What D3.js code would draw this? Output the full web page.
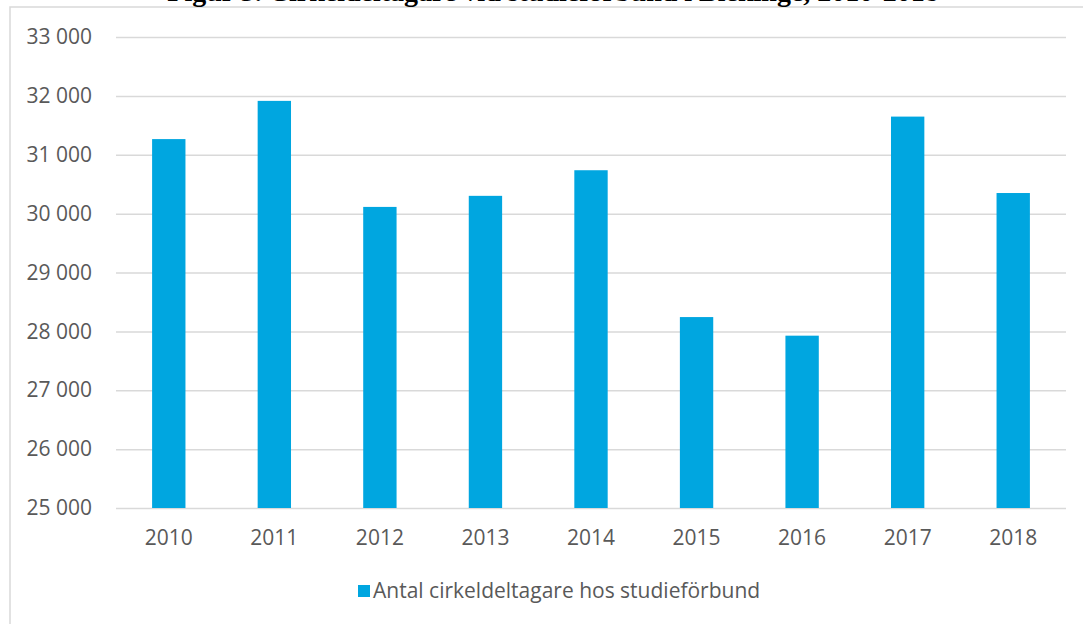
<!DOCTYPE html>
<html>
<head>
<meta charset="utf-8">
<script src="https://cdn.jsdelivr.net/npm/d3@7"></script>
<style>
  body { margin: 0; background: #fff; }
  text { font-family: "Open Sans", sans-serif; fill: #595959; }
</style>
</head>
<body>
<div id="chart"></div>
<script>
// data
var years = ["2010", "2011", "2012", "2013", "2014", "2015", "2016", "2017", "2018"];
var deltagare = [31266, 31915, 30114, 30302, 30737, 28243, 27927, 31648, 30350];
var yTicks = [25000, 26000, 27000, 28000, 29000, 30000, 31000, 32000, 33000];
var seriesName = "Antal cirkeldeltagare hos studieförbund";
var title = "Figur 3. Cirkeldeltagare vid studieförbund i Blekinge, 2010-2018";

var svgWidth = 1083;
var svgHeight = 624;

var plot = { left: 116, right: 1066, top: 37, bottom: 508 };

var svg = d3.select("#chart")
  .append("svg")
  .attr("width", svgWidth)
  .attr("height", svgHeight);

// chart area frame (right/bottom edges fall outside the picture)
svg.append("rect")
  .attr("x", 10)
  .attr("y", 7)
  .attr("width", 1200)
  .attr("height", 800)
  .attr("fill", "#fff")
  .attr("stroke", "#d9d9d9")
  .attr("stroke-width", 1.5);

// title, mostly above the page top like in the source (only its bottom shows)
svg.append("text")
  .attr("x", 553)
  .attr("y", 0.5)
  .attr("text-anchor", "middle")
  .style("font-family", "'Liberation Serif', serif")
  .style("font-weight", "bold")
  .style("font-size", "28px")
  .style("fill", "#000")
  .text(title);

var x = d3.scaleBand()
  .domain(years)
  .range([plot.left, plot.right])
  .paddingInner(0.684)
  .paddingOuter(0.342);

var y = d3.scaleLinear()
  .domain([25000, 33000])
  .range([plot.bottom, plot.top]);

var fmt = function(d) { return d3.format(",")(d).replace(",", " "); };

// gridlines + y labels
var leftAxis = d3.axisLeft(y)
  .tickValues(yTicks)
  .tickSize(-(plot.right - plot.left))
  .tickPadding(24)
  .tickFormat(fmt);

var yAxis = svg.append("g")
  .attr("transform", `translate(${plot.left}, 0)`)
  .call(leftAxis);

yAxis.select(".domain").remove();
yAxis.selectAll(".tick line")
  .attr("stroke", "#d9d9d9")
  .attr("stroke-width", 1.5);
yAxis.selectAll(".tick text")
  .style("font-size", "21px")
  .attr("fill", "#595959");

// bars
svg.append("g")
  .selectAll("rect")
  .data(deltagare)
  .enter()
  .append("rect")
  .attr("x", (d, i) => x(years[i]))
  .attr("y", d => y(d))
  .attr("width", x.bandwidth())
  .attr("height", d => y(25000) - y(d))
  .attr("fill", "#00a6e0");

// x labels
var bottomAxis = d3.axisBottom(x)
  .tickSize(0)
  .tickPadding(22);

var xAxis = svg.append("g")
  .attr("transform", `translate(0, ${plot.bottom})`)
  .call(bottomAxis);

xAxis.select(".domain").remove();
xAxis.selectAll(".tick text")
  .style("font-size", "21px")
  .attr("fill", "#595959");

// legend
var legend = svg.append("g")
  .attr("transform", "translate(358, 585)");

legend.append("rect")
  .attr("width", 12)
  .attr("height", 12)
  .attr("fill", "#00a6e0");

legend.append("text")
  .attr("x", 15)
  .attr("y", 13)
  .style("font-size", "21px")
  .text(seriesName);
</script>
</body>
</html>
